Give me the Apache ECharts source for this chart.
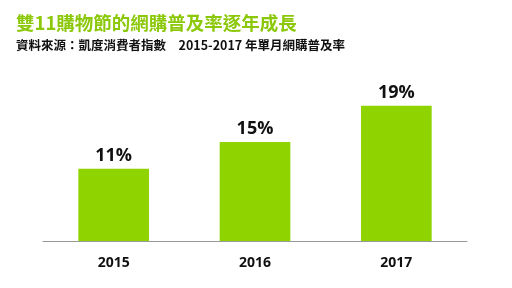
<!DOCTYPE html>
<html><head><meta charset="utf-8">
<script src="https://cdn.jsdelivr.net/npm/echarts@6/dist/echarts.min.js"></script>
<style>html,body{margin:0;padding:0;background:#fff}#c{width:512px;height:288px}</style>
</head><body><div id="c"></div>
<script>
const titleText = '雙11購物節的網購普及率逐年成長';
const subText = '資料來源：凱度消費者指數　2015-2017 年單月網購普及率';
const categories = ['2015', '2016', '2017'];
const values = [11, 15.1, 20.6];
const valueLabels = ['11%', '15%', '19%'];

const chart = echarts.init(document.getElementById('c'));
chart.setOption({
  backgroundColor: '#ffffff',
  animation: false,
  title: {
    text: titleText,
    subtext: subText,
    left: 11, top: 9,
    itemGap: 6,
    textStyle: {color: '#8cc80a', fontSize: 18.5, fontWeight: 'bold', fontFamily: '"Noto Sans CJK TC", sans-serif'},
    subtextStyle: {color: '#111', fontSize: 12.5, fontWeight: 'bold', fontFamily: '"Noto Sans CJK TC", sans-serif'}
  },
  grid: {left: 43, right: 45, top: 77, bottom: 47},
  xAxis: {
    type: 'category',
    data: categories,
    axisLine: {lineStyle: {color: '#999', width: 1}},
    axisTick: {inside: true, length: 4, lineStyle: {color: '#bbb'}},
    axisLabel: {color: '#111', fontSize: 14, fontWeight: 'bold', margin: 15, fontFamily: '"Open Sans", sans-serif'}
  },
  yAxis: {type: 'value', min: 0, max: 25, show: false, splitLine: {show: false}},
  series: [{
    type: 'bar',
    data: values,
    barWidth: '50%',
    itemStyle: {color: '#8fd400'},
    label: {
      show: true, position: 'top', distance: 4,
      formatter: p => valueLabels[p.dataIndex],
      color: '#111', fontSize: 18, fontWeight: 'bold', fontFamily: '"Open Sans", sans-serif'
    }
  }]
});
</script></body></html>
